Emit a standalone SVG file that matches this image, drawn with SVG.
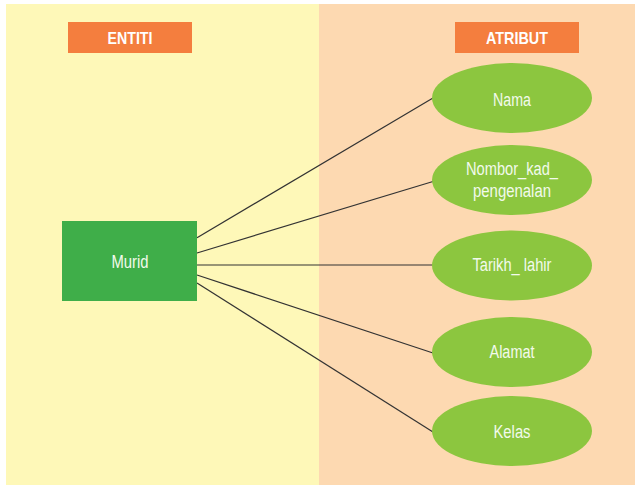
<svg xmlns="http://www.w3.org/2000/svg" width="639" height="490" viewBox="0 0 639 490">
<style>
.hdr{fill:#F47E3E}
.hdrt{font-family:"Liberation Sans",Arial,sans-serif;font-weight:bold;font-size:17px;fill:#FFFFFF;text-anchor:middle}
.ell{fill:#8CC63F}
.lbl{font-family:"Liberation Sans",Arial,sans-serif;font-size:18px;fill:#F2FAEC;text-anchor:middle}
.conn line{stroke:#333333;stroke-width:1.2}
</style>
<rect x="6" y="4" width="313" height="481" fill="#FEF8B8"/>
<rect x="319" y="4" width="316" height="481" fill="#FDD9B1"/>
<g id="hdr-entiti">
<rect class="hdr" x="68" y="22" width="124" height="31"/>
<text class="hdrt" x="130" y="44.3" textLength="45" lengthAdjust="spacingAndGlyphs">ENTITI</text>
</g>
<g id="hdr-atribut">
<rect class="hdr" x="455" y="22" width="124" height="31"/>
<text class="hdrt" x="517" y="44.3" textLength="62" lengthAdjust="spacingAndGlyphs">ATRIBUT</text>
</g>
<g class="conn" id="connectors">
<line x1="197" y1="237.7" x2="433" y2="98"/>
<line x1="197" y1="253" x2="433" y2="181.5"/>
<line x1="197" y1="265" x2="433" y2="265"/>
<line x1="197" y1="275" x2="433" y2="353"/>
<line x1="197" y1="283" x2="433" y2="432"/>
</g>
<g id="murid">
<rect x="62" y="221" width="135" height="80" fill="#3FAE49"/>
<text class="lbl" x="130" y="268.3" textLength="37" lengthAdjust="spacingAndGlyphs">Murid</text>
</g>
<g id="nama">
<ellipse class="ell" cx="512" cy="98" rx="80" ry="35"/>
<text class="lbl" x="512" y="106" textLength="38" lengthAdjust="spacingAndGlyphs">Nama</text>
</g>
<g id="nombor">
<ellipse class="ell" cx="512" cy="180" rx="80" ry="35"/>
<text class="lbl" x="512" y="175" textLength="92" lengthAdjust="spacingAndGlyphs">Nombor_kad_</text>
<text class="lbl" x="512" y="196.7" textLength="78" lengthAdjust="spacingAndGlyphs">pengenalan</text>
</g>
<g id="tarikh">
<ellipse class="ell" cx="512" cy="265.5" rx="80" ry="35"/>
<text class="lbl" x="512" y="270.7" textLength="79" lengthAdjust="spacingAndGlyphs">Tarikh_ lahir</text>
</g>
<g id="alamat">
<ellipse class="ell" cx="512" cy="352" rx="80" ry="35"/>
<text class="lbl" x="512" y="357.7" textLength="45" lengthAdjust="spacingAndGlyphs">Alamat</text>
</g>
<g id="kelas">
<ellipse class="ell" cx="512" cy="431" rx="80" ry="35"/>
<text class="lbl" x="512" y="438.3" textLength="37" lengthAdjust="spacingAndGlyphs">Kelas</text>
</g>
</svg>
